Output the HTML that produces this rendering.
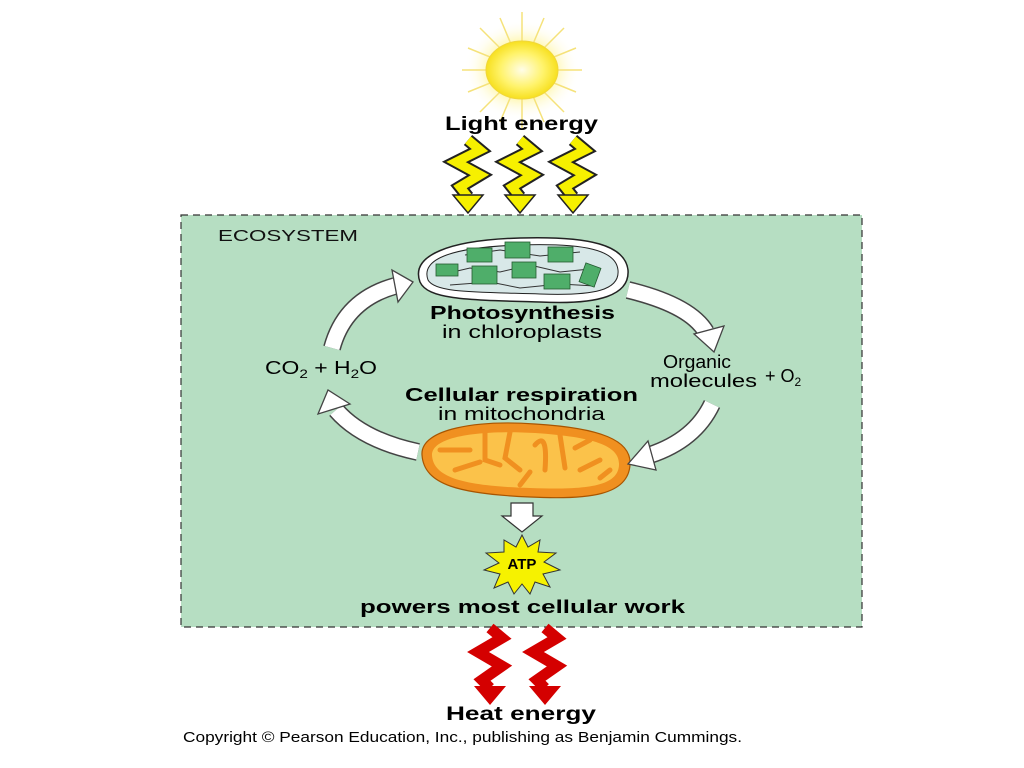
<!DOCTYPE html>
<html><head><meta charset="utf-8"><style>
html,body{margin:0;padding:0;background:#fff;}
svg{display:block;}
text{font-family:"Liberation Sans",Arial,sans-serif;}
.b{font-weight:bold;}
</style></head><body>
<svg width="1024" height="768" viewBox="0 0 1024 768" xmlns="http://www.w3.org/2000/svg">
<defs>
<radialGradient id="sun" cx="50%" cy="50%" r="50%">
<stop offset="0" stop-color="#fffde8"/><stop offset="0.6" stop-color="#fff36a"/><stop offset="1" stop-color="#f7e020"/>
</radialGradient>
<radialGradient id="glow" cx="50%" cy="50%" r="50%">
<stop offset="0.5" stop-color="#fff59a"/><stop offset="1" stop-color="#ffffff" stop-opacity="0"/>
</radialGradient>
<g id="ybolt">
<polyline points="0,0 12,10 -12,22 12,35 -8,47 0,57" fill="none" stroke="#222" stroke-width="13" stroke-linejoin="miter"/>
<polyline points="0,0 12,10 -12,22 12,35 -8,47 0,57" fill="none" stroke="#f6f000" stroke-width="9" stroke-linejoin="miter"/>
<polygon points="-15,55 15,55 0,73" fill="#f6f000" stroke="#222" stroke-width="1.5"/>
</g>
<g id="rbolt">
<polyline points="0,0 12,10 -12,24 12,38 -8,52 0,60" fill="none" stroke="#d40000" stroke-width="11" stroke-linejoin="miter"/>
<polygon points="-16,58 16,58 0,77" fill="#d40000"/>
</g>
</defs>
<ellipse cx="522" cy="70" rx="58" ry="50" fill="url(#glow)"/>
<g stroke="#f5e27a" stroke-width="1.5">
<line x1="522" y1="12" x2="522" y2="128"/><line x1="462" y1="70" x2="582" y2="70"/>
<line x1="480" y1="28" x2="564" y2="112"/><line x1="564" y1="28" x2="480" y2="112"/>
<line x1="500" y1="18" x2="544" y2="122"/><line x1="544" y1="18" x2="500" y2="122"/>
<line x1="468" y1="48" x2="576" y2="92"/><line x1="576" y1="48" x2="468" y2="92"/>
</g>
<ellipse cx="522" cy="70" rx="36" ry="29" fill="url(#sun)" stroke="#f0d63a" stroke-width="1"/>
<text x="445" y="130" textLength="153" lengthAdjust="spacingAndGlyphs" class="b" font-size="19">Light energy</text>
<use href="#ybolt" x="468" y="140"/>
<use href="#ybolt" x="520" y="140"/>
<use href="#ybolt" x="573" y="140"/>
<rect x="181" y="215" width="681" height="412" fill="#b6dec2" stroke="#333" stroke-width="1.2" stroke-dasharray="7,5"/>
<text x="218" y="241" textLength="140" lengthAdjust="spacingAndGlyphs" font-size="16" fill="#111">ECOSYSTEM</text>
<path d="M420,282 C410,255 450,240 520,238 C590,236 625,245 628,270 C630,295 600,305 540,302 C470,300 428,300 420,282 Z" fill="#fff" stroke="#222" stroke-width="1.5"/>
<path d="M428,280 C420,258 455,247 520,245 C585,243 616,250 618,270 C620,290 595,296 540,294 C475,292 435,293 428,280 Z" fill="#d8e8e8" stroke="#222" stroke-width="1"/>
<g stroke="#333" stroke-width="1" fill="none">
<path d="M440,275 L470,268 L500,272 L530,265 L560,272 L600,268"/>
<path d="M465,255 L500,250 L540,256 L580,252"/>
<path d="M450,285 L490,282 L520,288 L560,284 L595,286"/>
</g>
<g fill="#4fae6a" stroke="#245a30" stroke-width="0.8">
<rect x="467" y="248" width="25" height="14"/><rect x="505" y="242" width="25" height="16"/><rect x="548" y="247" width="25" height="15"/>
<rect x="436" y="264" width="22" height="12"/><rect x="472" y="266" width="25" height="18"/><rect x="512" y="262" width="24" height="16"/>
<rect x="544" y="274" width="26" height="15"/><rect x="582" y="265" width="16" height="20" transform="rotate(20 590 275)"/>
</g>
<text x="430" y="319" textLength="185" lengthAdjust="spacingAndGlyphs" class="b" font-size="18">Photosynthesis</text>
<text x="442" y="338" textLength="160" lengthAdjust="spacingAndGlyphs" font-size="18">in chloroplasts</text>
<path d="M422,455 C420,428 480,420 535,424 C600,428 632,440 630,465 C628,495 590,500 530,497 C460,494 424,485 422,455 Z" fill="#f09020" stroke="#a85500" stroke-width="1.2"/>
<path d="M432,455 C432,435 485,430 535,433 C595,437 620,446 619,465 C618,487 585,490 530,488 C465,486 433,478 432,455 Z" fill="#fbc24a"/>
<g stroke="#f09020" stroke-width="5" fill="none" stroke-linecap="round">
<path d="M440,450 L470,450"/><path d="M455,470 L480,462"/><path d="M485,430 L485,460 L500,465"/>
<path d="M510,432 L505,458 L520,470"/><path d="M535,445 Q548,430 545,470"/><path d="M560,435 L565,468"/>
<path d="M575,448 L590,440"/><path d="M580,470 L600,460"/><path d="M600,478 L610,470"/><path d="M520,485 L530,472"/>
</g>
<text x="405" y="401" textLength="233" lengthAdjust="spacingAndGlyphs" class="b" font-size="18">Cellular respiration</text>
<text x="438" y="420" textLength="167" lengthAdjust="spacingAndGlyphs" font-size="18">in mitochondria</text>
<g fill="none" stroke-linecap="butt">
<path d="M332,348 Q345,300 395,286" stroke="#444" stroke-width="18"/>
<path d="M332,348 Q345,300 395,286" stroke="#fff" stroke-width="15"/>
<path d="M628,290 Q690,305 706,332" stroke="#444" stroke-width="18"/>
<path d="M628,290 Q690,305 706,332" stroke="#fff" stroke-width="15"/>
<path d="M712,404 Q695,440 650,455" stroke="#444" stroke-width="18"/>
<path d="M712,404 Q695,440 650,455" stroke="#fff" stroke-width="15"/>
<path d="M418,452 Q362,440 336,410" stroke="#444" stroke-width="18"/>
<path d="M418,452 Q362,440 336,410" stroke="#fff" stroke-width="15"/>
</g>
<g fill="#fff" stroke="#444" stroke-width="1.3">
<polygon points="413,282 392,270 398,302"/>
<polygon points="714,352 694,334 724,326"/>
<polygon points="628,464 648,441 656,470"/>
<polygon points="328,390 318,414 350,404"/>
</g>
<text x="265" y="374" font-size="18" textLength="112" lengthAdjust="spacingAndGlyphs">CO<tspan font-size="12" dy="4">2</tspan><tspan dy="-4"> + H</tspan><tspan font-size="12" dy="4">2</tspan><tspan dy="-4">O</tspan></text>
<text x="663" y="368" textLength="68" lengthAdjust="spacingAndGlyphs" font-size="18">Organic</text>
<text x="650" y="387" textLength="107" lengthAdjust="spacingAndGlyphs" font-size="18">molecules</text>
<text x="765" y="382" font-size="18">+ O<tspan font-size="12" dy="4">2</tspan></text>
<polygon points="511,503 533,503 533,516 542,516 522,532 502,516 511,516" fill="#fff" stroke="#333" stroke-width="1.2"/>
<polygon points="522,535 528,547 540,540 538,552 556,553 544,562 560,570 543,574 550,587 535,582 530,594 522,584 514,594 508,582 494,588 500,574 484,570 499,563 486,553 504,552 504,540 516,547" fill="#f6f200" stroke="#333" stroke-width="1"/>
<text x="522" y="569" text-anchor="middle" class="b" font-size="15">ATP</text>
<text x="360" y="613" textLength="325" lengthAdjust="spacingAndGlyphs" class="b" font-size="18">powers most cellular work</text>
<use href="#rbolt" x="490" y="628"/>
<use href="#rbolt" x="545" y="628"/>
<text x="446" y="720" textLength="150" lengthAdjust="spacingAndGlyphs" class="b" font-size="19">Heat energy</text>
<text x="183" y="742" textLength="559" lengthAdjust="spacingAndGlyphs" font-size="15">Copyright © Pearson Education, Inc., publishing as Benjamin Cummings.</text>
</svg>
</body></html>
